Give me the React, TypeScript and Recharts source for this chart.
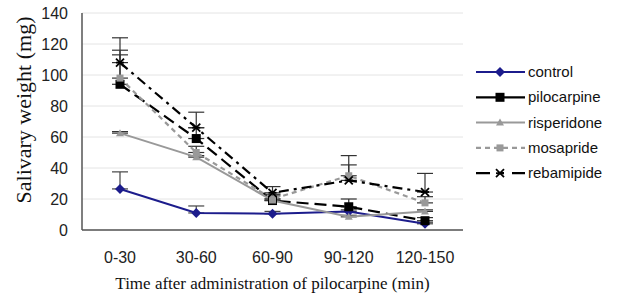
import React from "react";
import { LineChart, Line, XAxis, YAxis, CartesianGrid, ErrorBar } from "recharts";

const categories = ["0-30", "30-60", "60-90", "90-120", "120-150"];
const yTicks = [0, 20, 40, 60, 80, 100, 120, 140];

const control = [26.5, 11, 10.5, 12, 4];
const controlErr = [11, 4.5, 1.5, 1, 1];
const pilocarpine = [94, 59, 19, 15, 6];
const pilocarpineErr = [19, 7, 3, 5, 2];
const risperidone = [62.5, 47, 19, 8.5, 12];
const risperidoneErr = [1, 1, 1, 1, 1];
const mosapride = [98, 50, 20, 35, 17.5];
const mosaprideErr = [18, 4, 3, 13, 4];
const rebamipide = [108, 66, 24, 32, 24.5];
const rebamipideErr = [16, 10, 4, 10, 12];

const series = [
  { key: "control", name: "control", values: control, err: controlErr, color: "#1c1c8c", dash: undefined, marker: "diamond", width: 2 },
  { key: "pilocarpine", name: "pilocarpine", values: pilocarpine, err: pilocarpineErr, color: "#000000", dash: "12 6", marker: "square", width: 2.2 },
  { key: "risperidone", name: "risperidone", values: risperidone, err: risperidoneErr, color: "#999999", dash: undefined, marker: "triangle", width: 2 },
  { key: "mosapride", name: "mosapride", values: mosapride, err: mosaprideErr, color: "#999999", dash: "5 4", marker: "smallSquare", width: 2.2 },
  { key: "rebamipide", name: "rebamipide", values: rebamipide, err: rebamipideErr, color: "#000000", dash: "10 5 3 5", marker: "x", width: 2.2 },
];

const data = categories.map((cat, i) => {
  const row: Record<string, any> = { cat };
  series.forEach((s) => {
    row[s.key] = s.values[i];
    row[s.key + "Err"] = [0, s.err[i]];
  });
  return row;
});

function Marker({ type, cx, cy, color }: { type: string; cx: number; cy: number; color: string }) {
  if (cx == null || cy == null) return null;
  switch (type) {
    case "diamond":
      return <polygon points={`${cx},${cy - 5} ${cx + 5},${cy} ${cx},${cy + 5} ${cx - 5},${cy}`} fill={color} />;
    case "square":
      return <rect x={cx - 4.5} y={cy - 4.5} width={9} height={9} fill={color} />;
    case "smallSquare":
      return <rect x={cx - 3.5} y={cy - 3.5} width={7} height={7} fill={color} />;
    case "triangle":
      return <polygon points={`${cx},${cy - 4} ${cx + 4},${cy + 3} ${cx - 4},${cy + 3}`} fill={color} />;
    case "x":
      return (
        <g stroke={color} strokeWidth={1.8}>
          <line x1={cx - 4} y1={cy - 4} x2={cx + 4} y2={cy + 4} />
          <line x1={cx - 4} y1={cy + 4} x2={cx + 4} y2={cy - 4} />
          <line x1={cx - 4} y1={cy} x2={cx + 4} y2={cy} />
        </g>
      );
    default:
      return null;
  }
}

const sans = "'Liberation Sans', Arial, sans-serif";
const serif = "'Liberation Serif', 'Times New Roman', serif";

function YLabel() {
  return (
    <text
      transform="translate(31,110) rotate(-90)"
      textAnchor="middle"
      fontFamily={serif}
      fontSize={22}
      fill="#111"
    >
      Salivary weight (mg)
    </text>
  );
}

function LegendBox() {
  return (
    <svg width={140} height={140} style={{ position: "absolute", left: 470, top: 60 }}>
      {series.map((s, i) => {
        const y = 12 + i * 25.3;
        return (
          <g key={s.key}>
            <line x1={6} x2={55} y1={y} y2={y} stroke={s.color} strokeWidth={s.width}
              strokeDasharray={s.key === "mosapride" ? "5 4" : s.key === "rebamipide" ? "14 8 6 8" : undefined} />
            <Marker type={s.marker} cx={30} cy={y} color={s.color} />
            <text x={58} y={y + 5} fontFamily={sans} fontSize={15} fill="#111">{s.name}</text>
          </g>
        );
      })}
    </svg>
  );
}

export default function App() {
  return (
    <div style={{ position: "absolute", left: 0, top: 0, width: 617, height: 296, background: "#fff" }}>
      <LineChart width={617} height={296} data={data} margin={{ top: 13, right: 154, bottom: 0, left: 0 }}>
        <CartesianGrid vertical={false} stroke="#e4e4e4" />
        <XAxis
          dataKey="cat"
          padding={{ left: 38, right: 38 }}
          tick={{ fontSize: 16, fontFamily: sans, fill: "#222" }}
          tickLine={false}
          tickMargin={16}
          axisLine={{ stroke: "#555", strokeWidth: 1.5 }}
          height={66}
          label={{ value: "Time after administration of pilocarpine (min)", position: "insideBottom", offset: 7, fontSize: 17, fontFamily: serif, fill: "#111" }}
        />
        <XAxis xAxisId="top" dataKey="cat" orientation="top" height={0} tick={false} tickLine={false} axisLine={{ stroke: "#555", strokeWidth: 1.5 }} />
        <YAxis
          domain={[0, 140]}
          ticks={yTicks}
          width={82}
          tick={{ fontSize: 16, fontFamily: sans, fill: "#222" }}
          tickLine={false}
          tickMargin={8}
          axisLine={{ stroke: "#555", strokeWidth: 1.5 }}
          label={<YLabel />}
        />
        <YAxis yAxisId="right" orientation="right" domain={[0, 140]} width={0} tick={false} tickLine={false} axisLine={{ stroke: "#555", strokeWidth: 1.5 }} />
        {series.map((s) => (
          <Line
            key={s.key}
            dataKey={s.key}
            name={s.name}
            stroke={s.color}
            strokeWidth={s.width}
            strokeDasharray={s.dash}
            isAnimationActive={false}
            dot={(p: any) => <Marker key={`${s.key}-${p.index}`} type={s.marker} cx={p.cx} cy={p.cy} color={s.color} />}
            activeDot={false}
          >
            <ErrorBar dataKey={s.key + "Err"} direction="y" width={8} stroke={s.key === "control" ? "#444" : "#333"} strokeWidth={1.2} />
          </Line>
        ))}
      </LineChart>
      <LegendBox />
    </div>
  );
}
